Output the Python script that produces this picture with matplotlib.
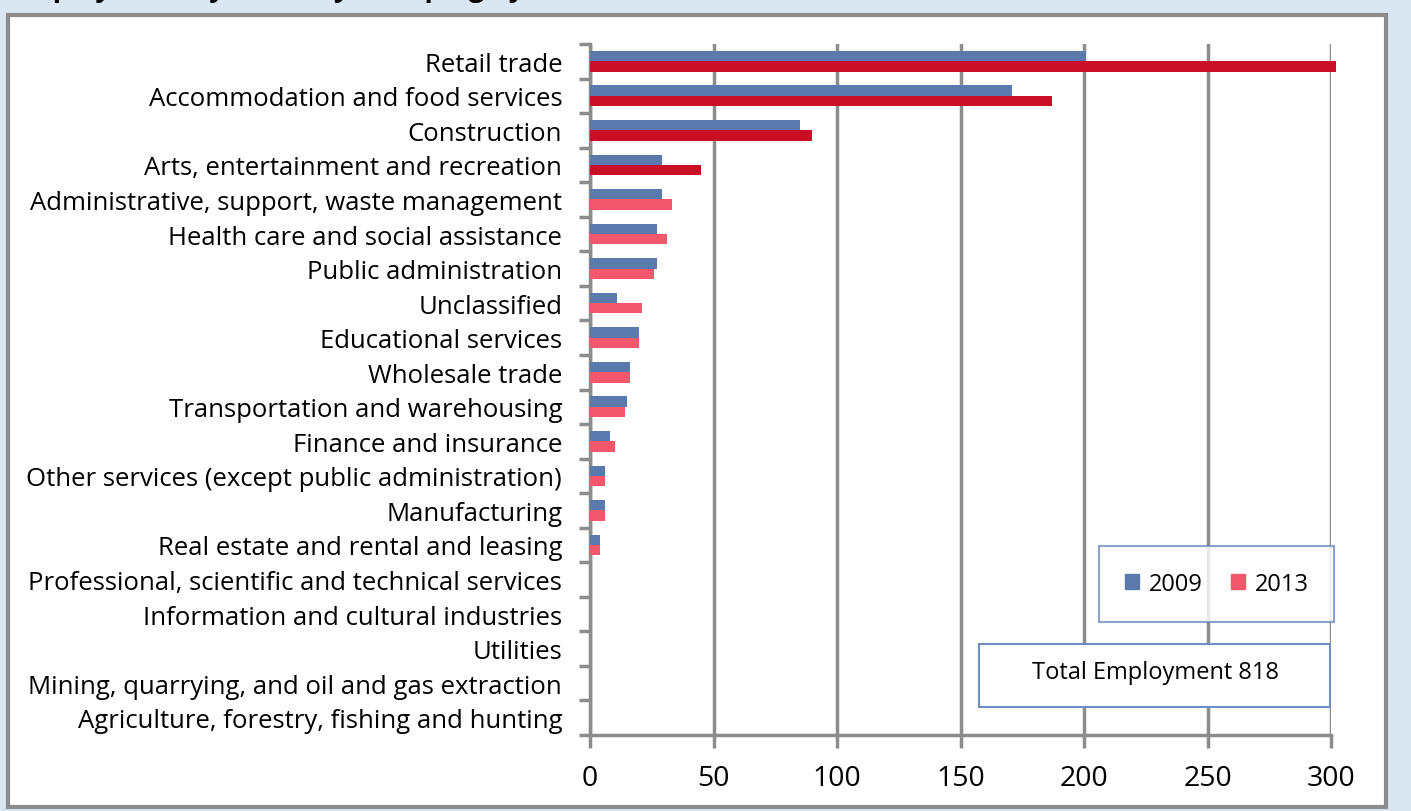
import numpy as np
import matplotlib.pyplot as plt
from matplotlib.patches import Rectangle, Patch

industries = [
    'Retail trade',
    'Accommodation and food services',
    'Construction',
    'Arts, entertainment and recreation',
    'Administrative, support, waste management',
    'Health care and social assistance',
    'Public administration',
    'Unclassified',
    'Educational services',
    'Wholesale trade',
    'Transportation and warehousing',
    'Finance and insurance',
    'Other services (except public administration)',
    'Manufacturing',
    'Real estate and rental and leasing',
    'Professional, scientific and technical services',
    'Information and cultural industries',
    'Utilities',
    'Mining, quarrying, and oil and gas extraction',
    'Agriculture, forestry, fishing and hunting',
]
emp_2009 = [201, 171, 85, 29, 29, 27, 27, 11, 20, 16, 15, 8, 6, 6, 4, 0, 0, 0, 0, 0]
emp_2013 = [302, 187, 90, 45, 33, 31, 26, 21, 20, 16, 14, 10, 6, 6, 4, 0, 0, 0, 0, 0]
total_employment = 818

blue = '#5a7aad'
dark_red = '#c80f26'
pink = '#f2576b'
grey = '#8c8c8c'
box_edge = '#6f8ebf'

plt.rcParams['font.family'] = ['Open Sans', 'DejaVu Sans']

fig = plt.figure(figsize=(14.11, 8.12), dpi=100)
fig.patch.set_facecolor('#dbe6f3')

# white chart area with grey frame (behind the axes)
frame = Rectangle((8 / 1411, 4 / 812), 1378 / 1411, 792 / 812, transform=fig.transFigure,
                  facecolor='white', edgecolor=grey, linewidth=3, zorder=-5)
fig.patches.append(frame)

# title, mostly cut off at the top of the image
fig.text(10 / 1411, 1 + 4 / 812, 'Employment by Industry Grouping by Year',
         fontsize=20, fontweight='bold', va='baseline', ha='left')

ax = fig.add_axes([590 / 1411, 76 / 812, 741 / 1411, 691 / 812])
ax.set_facecolor('none')

y = np.arange(len(industries))
h = 0.3
colors_2013 = [dark_red if i < 4 else pink for i in range(len(industries))]
ax.barh(y - h / 2, emp_2009, height=h, color=blue, linewidth=0, zorder=3, clip_on=False)
ax.barh(y + h / 2, emp_2013, height=h, color=colors_2013, linewidth=0, zorder=3, clip_on=False)

ax.set_xlim(0, 300)
ax.set_ylim(len(industries) - 0.5, -0.5)
ax.set_xticks(np.arange(0, 301, 50))
ax.xaxis.grid(True, color=grey, linewidth=2.5, zorder=1)
ax.set_axisbelow(True)

ax.set_yticks(y)
ax.set_yticklabels(industries, fontsize=18.5)
ax.set_yticks(np.arange(-0.5, len(industries)), minor=True)
ax.tick_params(axis='y', which='major', length=0, pad=20)
ax.tick_params(axis='y', which='minor', length=8, width=2.5, color=grey)
ax.tick_params(axis='x', length=9, width=2.5, color=grey, labelsize=20.5, pad=12)

for side in ['top', 'right']:
    ax.spines[side].set_visible(False)
for side in ['left', 'bottom']:
    ax.spines[side].set_color(grey)
    ax.spines[side].set_linewidth(2.5)

handles = [Patch(color=blue, label='2009'), Patch(color=pink, label='2013')]
leg = ax.legend(handles=handles, loc='upper left', bbox_to_anchor=(1099 / 1411, 1 - 547 / 812),
                bbox_transform=fig.transFigure, ncol=2, fontsize=17, frameon=True,
                fancybox=False, handlelength=0.6, handleheight=0.6, handletextpad=0.4,
                columnspacing=1.2, borderpad=1.1, borderaxespad=0)
leg.get_frame().set_edgecolor(box_edge)
leg.get_frame().set_linewidth(1.5)

box = Rectangle((979 / 1411, 1 - 708 / 812), 351 / 1411, 63 / 812, transform=fig.transFigure,
                facecolor='white', edgecolor=box_edge, linewidth=1.5, zorder=5)
fig.patches.append(box)
fig.text(1155 / 1411, 1 - 673 / 812, f'Total Employment {total_employment}', fontsize=17,
         ha='center', va='center', zorder=6)

fig.savefig('out.png', dpi=100, facecolor=fig.get_facecolor())
